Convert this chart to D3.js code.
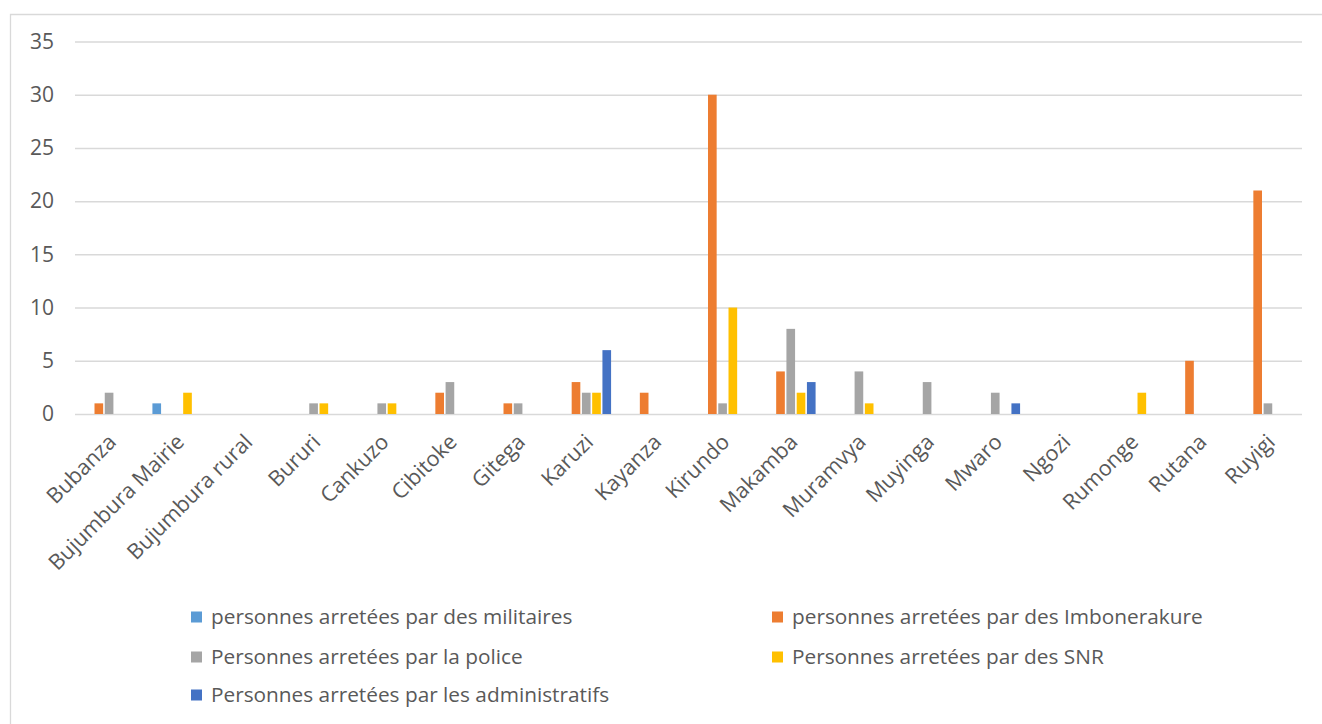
<!DOCTYPE html>
<html>
<head>
<meta charset="utf-8">
<script src="https://cdn.jsdelivr.net/npm/d3@7"></script>
<style>
  body { margin: 0; background: #fff; }
  svg { display: block; font-family: "Open Sans", sans-serif; }
</style>
</head>
<body>
<div id="chart"></div>
<script>
// provinces
const provinces = ["Bubanza", "Bujumbura Mairie", "Bujumbura rural", "Bururi", "Cankuzo", "Cibitoke",
  "Gitega", "Karuzi", "Kayanza", "Kirundo", "Makamba", "Muramvya", "Muyinga", "Mwaro", "Ngozi",
  "Rumonge", "Rutana", "Ruyigi"];

// series values, one per province
const militaires     = [0, 1, 0, 0, 0, 0, 0, 0, 0, 0, 0, 0, 0, 0, 0, 0, 0, 0];
const imbonerakure   = [1, 0, 0, 0, 0, 2, 1, 3, 2, 30, 4, 0, 0, 0, 0, 0, 5, 21];
const police         = [2, 0, 0, 1, 1, 3, 1, 2, 0, 1, 8, 4, 3, 2, 0, 0, 0, 1];
const snr            = [0, 2, 0, 1, 1, 0, 0, 2, 0, 10, 2, 1, 0, 0, 0, 2, 0, 0];
const administratifs = [0, 0, 0, 0, 0, 0, 0, 6, 0, 0, 3, 0, 0, 1, 0, 0, 0, 0];

const seriesNames = ["personnes arretées par des militaires", "personnes arretées par des Imbonerakure",
  "Personnes arretées par la police", "Personnes arretées par des SNR",
  "Personnes arretées par les administratifs"];
const seriesColors = ["#5B9BD5", "#ED7D31", "#A5A5A5", "#FFC000", "#4472C4"];
const yTicks = [0, 5, 10, 15, 20, 25, 30, 35];

const allSeries = [militaires, imbonerakure, police, snr, administratifs];

const width = 1322, height = 724;
const plot = {left: 75, right: 1302, top: 41.5, bottom: 414};

let svg = d3.select("#chart")
    .append("svg")
    .attr("width", width)
    .attr("height", height);

// chart frame (only left and top edges are visible in the picture)
svg.append("path")
    .attr("d", `M10.5,${height} V14.5 H${width}`)
    .attr("fill", "none")
    .attr("stroke", "#d9d9d9")
    .attr("stroke-width", 1.3);

var x = d3.scaleBand()
    .domain(provinces)
    .range([plot.left, plot.right])
    .paddingInner(0.248)
    .paddingOuter(0.124);

var xSub = d3.scaleBand()
    .domain(d3.range(allSeries.length))
    .range([0, x.bandwidth()]);

var y = d3.scaleLinear()
    .domain([0, 35])
    .range([plot.bottom, plot.top]);

// y gridlines + labels
let yAxis = svg.append("g")
    .attr("transform", `translate(${plot.left},0)`)
    .call(d3.axisLeft(y).tickValues(yTicks).tickSize(-(plot.right - plot.left)).tickPadding(21));
yAxis.select(".domain").remove();
yAxis.selectAll(".tick line").attr("stroke", "#d9d9d9").attr("stroke-width", 1.5);
yAxis.selectAll(".tick text")
    .attr("fill", "#595959")
    .style("font-size", "21px")
    .style("font-family", "Open Sans, sans-serif");

// bars
let groups = svg.append("g").selectAll("g")
    .data(allSeries)
    .enter().append("g")
    .attr("fill", (d, i) => seriesColors[i]);

groups.each(function(vals, si) {
    d3.select(this).selectAll("rect")
        .data(vals.map((v, pi) => ({p: provinces[pi], v: v})).filter(d => d.v > 0))
        .enter().append("rect")
        .attr("x", d => x(d.p) + xSub(si) + 0.8)
        .attr("width", xSub.bandwidth() - 1.6)
        .attr("y", d => y(d.v))
        .attr("height", d => y(0) - y(d.v));
});

// x axis labels, rotated
let xAxis = svg.append("g")
    .attr("transform", `translate(0,${plot.bottom})`)
    .call(d3.axisBottom(x).tickSize(0));
xAxis.select(".domain").remove();
xAxis.selectAll(".tick text")
    .attr("fill", "#595959")
    .style("font-size", "21.5px")
    .style("font-family", "Open Sans, sans-serif")
    .attr("text-anchor", "end")
    .attr("x", 0).attr("y", 0).attr("dy", "0.35em")
    .attr("transform", "translate(3,24) rotate(-45)");

// legend
const legendPos = [[191, 617], [772, 617], [191, 657], [772, 657], [191, 695]];
let legend = svg.append("g").selectAll("g")
    .data(seriesNames)
    .enter().append("g")
    .attr("transform", (d, i) => `translate(${legendPos[i][0]},${legendPos[i][1]})`);
legend.append("rect")
    .attr("x", 0).attr("y", -5.5)
    .attr("width", 11).attr("height", 11)
    .attr("fill", (d, i) => seriesColors[i]);
legend.append("text")
    .attr("x", 20).attr("dy", "0.35em")
    .attr("fill", "#595959")
    .style("font-size", "20.8px")
    .text(d => d);
</script>
</body>
</html>
